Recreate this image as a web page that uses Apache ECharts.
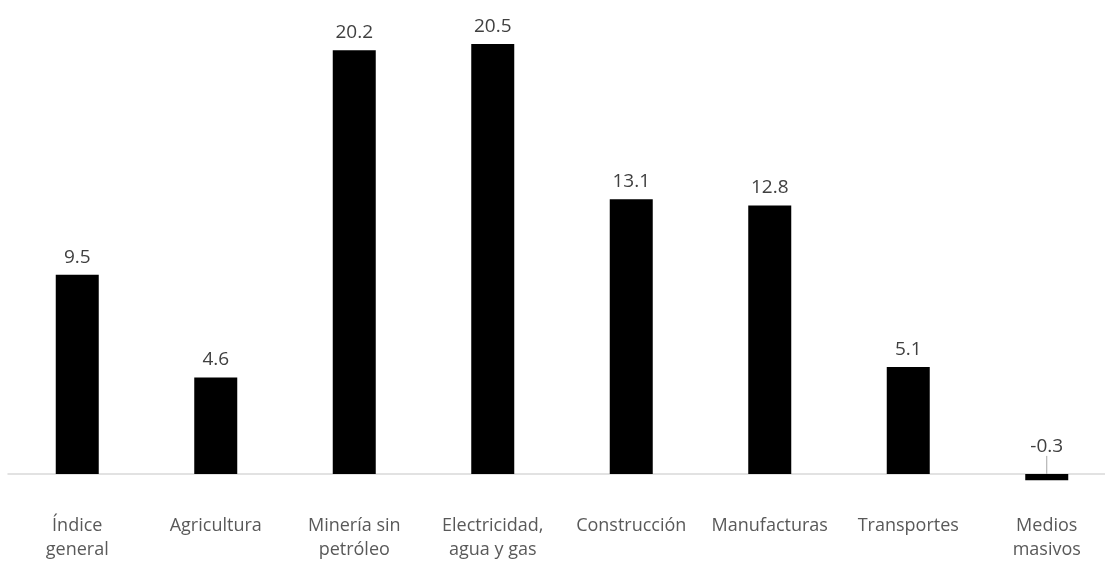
<!DOCTYPE html>
<html>
<head>
<meta charset="utf-8">
<script src="https://cdn.jsdelivr.net/npm/echarts@6/dist/echarts.min.js"></script>
<style>html,body{margin:0;padding:0;background:#fff}#c{width:1105px;height:568px}</style>
</head>
<body>
<div id="c"></div>
<script>
const categories = ["Índice\ngeneral", "Agricultura", "Minería sin\npetróleo", "Electricidad,\nagua y gas", "Construcción", "Manufacturas", "Transportes", "Medios\nmasivos"];
const values = [9.5, 4.6, 20.2, 20.5, 13.1, 12.8, 5.1, -0.3];

const seriesData = values.map(v => v < 0
  ? {value: v, labelLine: {show: true, lineStyle: {color: '#a6a6a6', width: 1}}}
  : {value: v});

const chart = echarts.init(document.getElementById('c'), null, {renderer: 'canvas'});
chart.setOption({
  animation: false,
  backgroundColor: '#fff',
  grid: {left: 8, right: -11, top: 12.5, height: 482.4, containLabel: false, outerBoundsMode: 'none'},
  xAxis: {
    type: 'category',
    data: categories,
    axisLine: {show: true, onZero: true, lineStyle: {color: '#d9d9d9', width: 1.5}},
    axisTick: {show: false},
    axisLabel: {
      interval: 0, hideOverlap: false, margin: 19,
      color: '#595959', fontFamily: 'Open Sans', fontSize: 18, lineHeight: 24
    }
  },
  yAxis: {
    type: 'value', min: -1, max: 22,
    show: false, splitLine: {show: false}
  },
  series: [{
    type: 'bar',
    data: seriesData,
    barWidth: 43,
    itemStyle: {color: '#000'},
    label: {
      show: true, position: 'top', distance: 8,
      color: '#404040', fontFamily: 'Open Sans', fontSize: 19,
      formatter: p => p.value.toFixed(1)
    },
    labelLayout: p => p.dataIndex === 7 ? {dy: -10} : {},
    labelLine: {show: false}
  }]
});
</script>
</body>
</html>
